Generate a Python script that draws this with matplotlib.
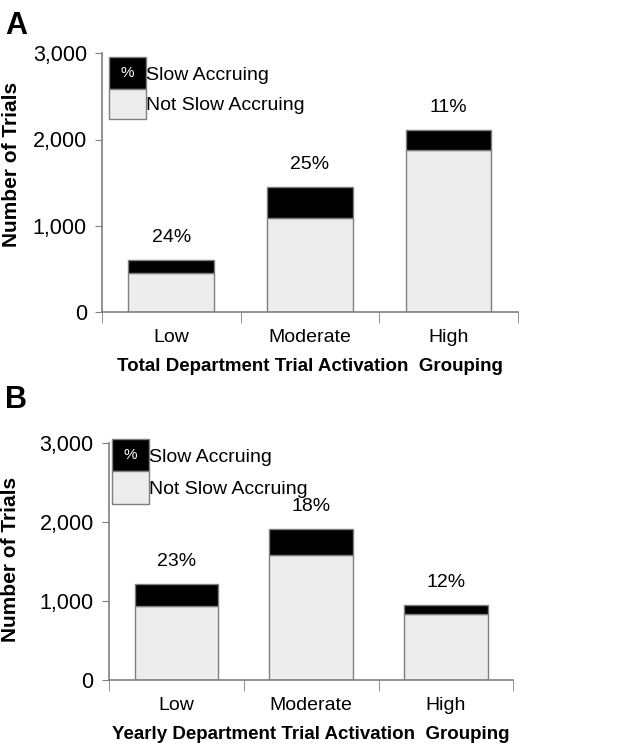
import matplotlib
matplotlib.use('Agg')
import matplotlib.pyplot as plt
from matplotlib.patches import Rectangle

plt.rcParams['font.family'] = ['Liberation Sans', 'DejaVu Sans']

# data
categories = ['Low', 'Moderate', 'High']

total_not_slow = [455, 1085, 1875]
total_slow = [145, 360, 235]
total_pct = ['24%', '25%', '11%']

yearly_not_slow = [935, 1580, 840]
yearly_slow = [280, 330, 110]
yearly_pct = ['23%', '18%', '12%']

yticks = [0, 1000, 2000, 3000]
ytick_labels = ['0', '1,000', '2,000', '3,000']

GRAY_EDGE = '#7f7f7f'
LIGHT = '#ededed'


def draw_panel(ax, not_slow, slow, pct, xlabel, leg_box, leg_text_y, ylab_xy):
    x = list(range(len(categories)))
    ax.bar(x, not_slow, width=0.62, color=LIGHT, edgecolor=GRAY_EDGE, linewidth=1)
    ax.bar(x, slow, width=0.62, bottom=not_slow, color='black',
           edgecolor=GRAY_EDGE, linewidth=1)
    for xi, ns, s, p in zip(x, not_slow, slow, pct):
        ax.annotate(p, (xi, ns + s), xytext=(0, 10), textcoords='offset points',
                    ha='center', va='bottom', fontsize=14)

    ax.set_xlim(-0.5, 2.5)
    ax.set_ylim(0, 3000)
    ax.set_yticks(yticks)
    ax.set_yticklabels(ytick_labels, fontsize=15.5)
    ax.set_xticks(x)
    ax.set_xticklabels(categories, fontsize=14)
    ax.set_xticks([-0.5, 0.5, 1.5, 2.5], minor=True)
    ax.tick_params(axis='x', which='major', length=0, pad=12)
    ax.tick_params(axis='x', which='minor', length=8, color=GRAY_EDGE, direction='out')
    ax.tick_params(axis='y', length=5, color=GRAY_EDGE, direction='out', pad=6)

    for side in ['top', 'right']:
        ax.spines[side].set_visible(False)
    for side in ['left', 'bottom']:
        ax.spines[side].set_color(GRAY_EDGE)
        ax.spines[side].set_linewidth(1.2)

    ax.set_xlabel(xlabel, fontsize=13.5, fontweight='bold', labelpad=9)
    ax.set_ylabel('Number of Trials', fontsize=15, fontweight='bold')
    ax.yaxis.set_label_coords(*ylab_xy)

    # custom legend: black box with %, light box below
    x0, x1, ytop, ymid, ybot = leg_box
    ax.add_patch(Rectangle((x0, ymid), x1 - x0, ytop - ymid, transform=ax.transAxes,
                           facecolor='black', edgecolor=GRAY_EDGE, lw=1, clip_on=False))
    ax.add_patch(Rectangle((x0, ybot), x1 - x0, ymid - ybot, transform=ax.transAxes,
                           facecolor=LIGHT, edgecolor=GRAY_EDGE, lw=1, clip_on=False))
    ax.text((x0 + x1) / 2, (ytop + ymid) / 2, '%', color='white', fontsize=11,
            ha='center', va='center', transform=ax.transAxes)
    ax.text(x1, leg_text_y[0], 'Slow Accruing', fontsize=14, ha='left',
            va='center', transform=ax.transAxes)
    ax.text(x1, leg_text_y[1], 'Not Slow Accruing', fontsize=14, ha='left',
            va='center', transform=ax.transAxes)


fig = plt.figure(figsize=(6.23, 7.5), dpi=100)
ax_a = fig.add_axes([0.164, 0.584, 0.667, 0.345])
ax_b = fig.add_axes([0.175, 0.093, 0.649, 0.316])

draw_panel(ax_a, total_not_slow, total_slow, total_pct,
           'Total Department Trial Activation  Grouping',
           (0.017, 0.106, 0.985, 0.861, 0.745), (0.915, 0.80), (-0.196, 0.57))
draw_panel(ax_b, yearly_not_slow, yearly_slow, yearly_pct,
           'Yearly Department Trial Activation  Grouping',
           (0.007, 0.099, 1.02, 0.881, 0.742), (0.94, 0.805), (-0.219, 0.51))

fig.text(0.008, 0.985, 'A', fontsize=22, fontweight='bold', va='top')
fig.text(0.008, 0.487, 'B', fontsize=22, fontweight='bold', va='top')

fig.savefig('out.png', dpi=100, facecolor='white')
